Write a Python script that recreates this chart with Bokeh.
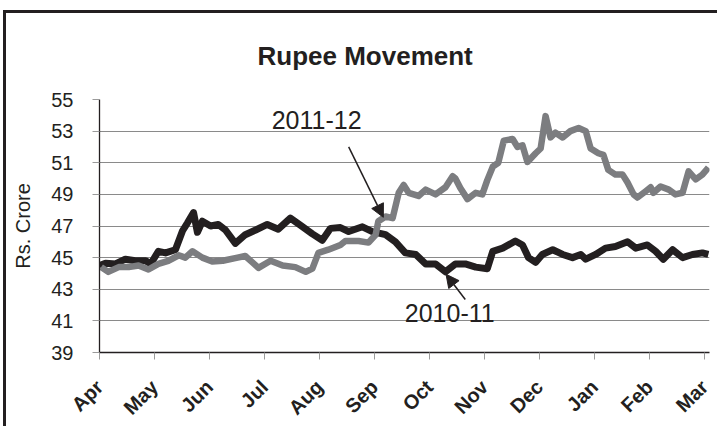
import math
from bokeh.plotting import figure
from bokeh.models import Range1d, Label, Arrow, NormalHead, FixedTicker
from bokeh.embed import file_html
from bokeh.resources import INLINE

# ---- data (x = months since 1 April) ----
month_labels = ["Apr", "May", "Jun", "Jul", "Aug", "Sep",
                "Oct", "Nov", "Dec", "Jan", "Feb", "Mar"]
month_ticks = list(range(12))
y_ticks = [39, 41, 43, 45, 47, 49, 51, 53, 55]

months_1011 = [0.00, 0.11, 0.29, 0.47, 0.65, 0.84, 0.93, 1.07, 1.20, 1.38,
               1.51, 1.60, 1.71, 1.78, 1.87, 2.02, 2.16, 2.29, 2.47, 2.65,
               2.84, 3.05, 3.25, 3.47, 3.65, 3.87, 4.05, 4.20, 4.38, 4.53,
               4.78, 4.96, 5.20, 5.38, 5.56, 5.75, 5.93, 6.11, 6.29, 6.47,
               6.65, 6.84, 7.05, 7.15, 7.33, 7.56, 7.69, 7.80, 7.93, 8.05,
               8.24, 8.42, 8.60, 8.75, 8.84, 9.02, 9.20, 9.38, 9.60, 9.75,
               9.96, 10.11, 10.25, 10.42, 10.60, 10.78, 10.96, 11.07]
rate_1011 = [44.5, 44.65, 44.6, 44.9, 44.8, 44.8, 44.6, 45.4, 45.3, 45.5,
             46.7, 47.2, 47.85, 46.6, 47.3, 47.0, 47.1, 46.75, 45.9, 46.45,
             46.75, 47.1, 46.8, 47.5, 47.05, 46.5, 46.1, 46.85, 46.9, 46.65,
             46.95, 46.65, 46.45, 46.0, 45.3, 45.2, 44.6, 44.6, 44.1, 44.6,
             44.6, 44.4, 44.3, 45.4, 45.6, 46.05, 45.8, 45.0, 44.7, 45.2,
             45.5, 45.2, 45.0, 45.2, 44.9, 45.2, 45.6, 45.7, 46.0, 45.6,
             45.8, 45.4, 44.9, 45.5, 45.0, 45.2, 45.3, 45.2]

months_1112 = [0.03, 0.16, 0.35, 0.53, 0.71, 0.89, 1.07, 1.25, 1.44, 1.56,
               1.69, 1.87, 2.05, 2.24, 2.51, 2.65, 2.78, 2.89, 3.11, 3.33,
               3.56, 3.75, 3.87, 3.98, 4.16, 4.38, 4.47, 4.71, 4.89, 5.02,
               5.07, 5.20, 5.33, 5.44, 5.53, 5.62, 5.80, 5.93, 6.11, 6.29,
               6.42, 6.47, 6.56, 6.69, 6.84, 6.96, 7.05, 7.15, 7.25, 7.35,
               7.51, 7.60, 7.69, 7.78, 7.93, 8.02, 8.11, 8.20, 8.29, 8.42,
               8.56, 8.71, 8.84, 8.93, 9.07, 9.16, 9.25, 9.38, 9.51, 9.60,
               9.71, 9.78, 9.93, 10.02, 10.07, 10.20, 10.35, 10.47, 10.60, 10.71,
               10.84, 10.96, 11.07]
rate_1112 = [44.4, 44.1, 44.4, 44.4, 44.5, 44.25, 44.6, 44.8, 45.15, 45.0,
             45.4, 45.0, 44.75, 44.8, 45.0, 45.1, 44.7, 44.35, 44.8, 44.5,
             44.4, 44.1, 44.3, 45.3, 45.5, 45.8, 46.05, 46.05, 45.95, 46.45,
             47.3, 47.6, 47.5, 49.1, 49.6, 49.1, 48.9, 49.3, 49.0, 49.45,
             50.15, 50.0, 49.4, 48.7, 49.1, 49.0, 49.9, 50.75, 51.0, 52.4,
             52.5, 52.0, 52.1, 51.05, 51.6, 51.9, 53.95, 52.6, 52.9, 52.6,
             53.0, 53.2, 53.0, 51.9, 51.6, 51.5, 50.55, 50.25, 50.25, 49.75,
             49.0, 48.8, 49.2, 49.45, 49.1, 49.5, 49.3, 49.0, 49.1, 50.45,
             49.95, 50.25, 50.7]

# annotation anchors (data units)
title_text = "Rupee Movement"
ylabel_text = "Rs. Crore"
label_1112 = ("2011-12", 3.13, 53.7)
label_1011 = ("2010-11", 5.55, 41.5)
arrow_1112 = (4.53, 52.0, 5.16, 47.55)
arrow_1011 = (6.65, 42.35, 6.30, 43.95)

DARK = "#231f20"
GREY = "#7c7d80"
FONT = "Liberation Sans"

p = figure(width=714, height=416,
           x_range=Range1d(0, 11.09), y_range=Range1d(39, 55),
           output_backend="svg", toolbar_location=None,
           min_border_left=93, min_border_right=11,
           min_border_top=85, min_border_bottom=72)
p.styles = {"margin-left": "3px", "margin-top": "10px",
            "border-left": "3px solid #231f20", "border-top": "3px solid #231f20"}
p.outline_line_color = None
p.background_fill_color = "white"
p.border_fill_color = "white"

p.title.text = title_text
p.title.align = "left"
p.title.vertical_align = "top"
p.title.offset = 158
p.title.standoff = 54
p.title.text_font = FONT
p.title.text_font_style = "bold"
p.title.text_font_size = "26px"
p.title.text_color = DARK

p.xgrid.visible = False
p.ygrid.ticker = FixedTicker(ticks=y_ticks)
p.ygrid.grid_line_color = "#8a8a8a"
p.ygrid.grid_line_width = 1.2

ya = p.yaxis[0]
ya.ticker = FixedTicker(ticks=y_ticks)
ya.axis_label = ylabel_text
ya.axis_label_text_font = FONT
ya.axis_label_text_font_style = "normal"
ya.axis_label_text_font_size = "20px"
ya.axis_label_text_color = DARK
ya.axis_label_standoff = 14
ya.major_label_text_font = FONT
ya.major_label_text_font_size = "20px"
ya.major_label_text_color = DARK
ya.major_tick_out = 7
ya.major_tick_in = 0
ya.major_tick_line_color = "#9a9a9a"
ya.minor_tick_line_color = None
ya.axis_line_color = DARK
ya.axis_line_width = 1.3
ya.major_label_standoff = 19

xa = p.xaxis[0]
xa.ticker = FixedTicker(ticks=month_ticks)
xa.major_label_overrides = {t: lab for t, lab in zip(month_ticks, month_labels)}
xa.major_label_orientation = math.pi / 4
xa.major_label_text_font = FONT
xa.major_label_text_font_style = "bold"
xa.major_label_text_font_size = "20px"
xa.major_label_text_color = DARK
xa.major_tick_out = 7
xa.major_tick_in = 0
xa.major_tick_line_color = "#9a9a9a"
xa.minor_tick_line_color = None
xa.axis_line_color = DARK
xa.axis_line_width = 1.3
xa.major_label_standoff = 24

p.line(months_1011, rate_1011, line_color=DARK, line_width=7, line_join="round")
p.line(months_1112, rate_1112, line_color=GREY, line_width=6.5, line_join="round")

for txt, lx, ly in (label_1112, label_1011):
    p.add_layout(Label(x=lx, y=ly, text=txt, text_align="left",
                       text_baseline="alphabetic", text_font=FONT,
                       text_font_size="25px", text_color=DARK))
for (x0, y0, x1, y1) in (arrow_1112, arrow_1011):
    p.add_layout(Arrow(end=NormalHead(size=13, fill_color=DARK, line_color=DARK),
                       x_start=x0, y_start=y0, x_end=x1, y_end=y1,
                       line_color=DARK, line_width=1.5))

open("out.html", "w").write(file_html(p, INLINE))
